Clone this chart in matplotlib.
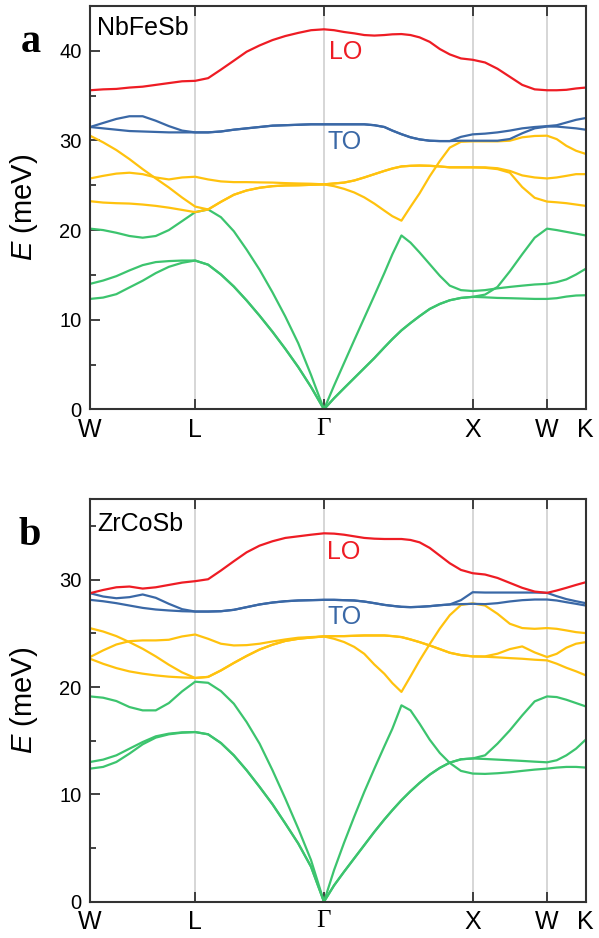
import matplotlib
matplotlib.use('Agg')
import matplotlib.pyplot as plt
from matplotlib.ticker import MultipleLocator

plt.rcParams['font.family'] = ['Liberation Sans', 'DejaVu Sans']
plt.rcParams['mathtext.fontset'] = 'custom'
plt.rcParams['mathtext.it'] = 'Liberation Sans:italic'
plt.rcParams['mathtext.rm'] = 'Liberation Sans'

# high-symmetry path W-L-G-X-W-K
node_k = [0.0, 0.707, 1.573, 2.573, 3.073, 3.333]
node_labels = ['W', 'L', 'Γ', 'X', 'W', 'K']

# sampled wave-vector positions along the path (W-L | L-G | G-X | X-W | W-K)
k = [0.0, 0.088, 0.177, 0.265, 0.354, 0.442, 0.530, 0.619, 0.707,
     0.794, 0.880, 0.967, 1.053, 1.140, 1.227, 1.313, 1.400, 1.486, 1.573,
     1.641, 1.708, 1.776, 1.844, 1.912, 1.979, 2.033, 2.094, 2.155, 2.216, 2.284, 2.352, 2.419, 2.494, 2.573,
     2.656, 2.740, 2.823, 2.906, 2.990, 3.073,
     3.138, 3.203, 3.268, 3.333]

# ---------------- NbFeSb (meV) ----------------
nbfesb_lo = [35.6, 35.7, 35.75, 35.9, 36.0, 36.2, 36.4, 36.6, 36.65,
             36.95, 37.9, 38.9, 39.9, 40.6, 41.2, 41.65, 42.0, 42.3, 42.4,
             42.3, 42.1, 41.95, 41.76, 41.7, 41.76, 41.84, 41.87, 41.76, 41.5, 41.0, 40.2, 39.6, 39.15, 39.0,
             38.7, 38.0, 37.1, 36.2, 35.7, 35.6,
             35.6, 35.65, 35.8, 35.9]
nbfesb_to1 = [31.5, 31.95, 32.4, 32.7, 32.7, 32.2, 31.6, 31.1, 30.9,
              30.9, 31.0, 31.2, 31.35, 31.5, 31.65, 31.7, 31.75, 31.8, 31.8,
              31.8, 31.8, 31.8, 31.8, 31.7, 31.5, 31.1, 30.7, 30.35, 30.12, 29.97, 29.93, 29.93, 30.4, 30.68,
              30.76, 30.9, 31.1, 31.35, 31.5, 31.6,
              31.7, 32.0, 32.3, 32.5]
nbfesb_to2 = [31.5, 31.35, 31.2, 31.05, 31.0, 30.95, 30.9, 30.9, 30.9,
              30.9, 31.0, 31.2, 31.35, 31.5, 31.65, 31.7, 31.75, 31.8, 31.8,
              31.8, 31.8, 31.8, 31.8, 31.7, 31.5, 31.1, 30.7, 30.35, 30.12, 29.97, 29.93, 29.93, 29.97, 29.97,
              29.97, 29.97, 30.16, 30.8, 31.35, 31.55,
              31.55, 31.45, 31.35, 31.2]
nbfesb_y1 = [30.53, 29.79, 28.93, 27.92, 26.8, 25.76, 24.75, 23.63, 22.62,
             22.3, 23.15, 23.94, 24.42, 24.72, 24.9, 24.98, 25.0, 25.05, 25.1,
             25.2, 25.3, 25.53, 25.87, 26.24, 26.6, 26.87, 27.1, 27.17, 27.2, 27.17, 27.1, 27.0, 27.0, 27.0,
             27.0, 26.9, 26.6, 26.1, 25.87, 25.76,
             25.87, 26.05, 26.24, 26.24]
nbfesb_y2 = [23.22, 23.07, 23.0, 22.96, 22.85, 22.7, 22.5, 22.25, 22.0,
             22.3, 23.15, 23.94, 24.42, 24.72, 24.9, 24.98, 25.0, 25.05, 25.1,
             25.2, 25.3, 25.53, 25.87, 26.24, 26.6, 26.87, 27.1, 27.17, 27.2, 27.17, 27.1, 27.0, 27.0, 27.0,
             26.95, 26.8, 26.4, 24.8, 23.6, 23.18,
             23.1, 23.0, 22.85, 22.7]
nbfesb_y3 = [25.76, 26.05, 26.3, 26.4, 26.24, 25.87, 25.65, 25.87, 25.95,
             25.65, 25.43, 25.35, 25.35, 25.32, 25.3, 25.24, 25.2, 25.17, 25.1,
             24.9, 24.6, 24.2, 23.65, 22.95, 22.17, 21.55, 21.05, 22.6, 24.1, 26.0, 27.7, 29.2, 29.85, 29.9,
             29.9, 29.9, 29.97, 30.35, 30.5, 30.53,
             30.15, 29.4, 28.85, 28.5]
nbfesb_g1 = [20.16, 20.0, 19.7, 19.34, 19.15, 19.34, 20.0, 21.0, 22.0,
             22.3, 21.44, 19.87, 17.82, 15.58, 13.05, 10.36, 7.38, 3.84, 0.0,
             2.65, 5.16, 7.7, 10.2, 12.7, 15.2, 17.3, 19.4, 18.6, 17.5, 16.2, 14.9, 13.8, 13.3, 13.2,
             13.3, 13.5, 13.66, 13.8, 13.93, 14.0,
             14.19, 14.5, 15.04, 15.68]
nbfesb_g2 = [14.0, 14.37, 14.86, 15.5, 16.09, 16.43, 16.54, 16.6, 16.6,
             16.14, 15.05, 13.7, 12.15, 10.45, 8.65, 6.75, 4.72, 2.5, 0.0,
             1.24, 2.36, 3.48, 4.6, 5.72, 6.91, 7.84, 8.81, 9.63, 10.4, 11.2, 11.76, 12.17, 12.43, 12.55,
             12.8, 13.66, 15.4, 17.3, 19.15, 20.16,
             20.0, 19.8, 19.6, 19.4]
nbfesb_g3 = [12.32, 12.47, 12.85, 13.6, 14.35, 15.2, 15.9, 16.35, 16.6,
             16.14, 15.05, 13.7, 12.15, 10.45, 8.65, 6.75, 4.72, 2.5, 0.0,
             1.24, 2.36, 3.48, 4.6, 5.72, 6.91, 7.84, 8.81, 9.63, 10.4, 11.2, 11.76, 12.17, 12.43, 12.55,
             12.5, 12.43, 12.4, 12.36, 12.32, 12.32,
             12.4, 12.58, 12.7, 12.73]

# ---------------- ZrCoSb (meV) ----------------
zrcosb_lo = [28.75, 29.05, 29.3, 29.37, 29.18, 29.3, 29.52, 29.74, 29.87,
             30.05, 30.86, 31.73, 32.56, 33.18, 33.59, 33.9, 34.05, 34.2, 34.33,
             34.3, 34.2, 34.05, 33.9, 33.83, 33.8, 33.8, 33.8, 33.71, 33.49, 32.97, 32.25, 31.54, 30.92, 30.61,
             30.49, 30.17, 29.71, 29.25, 28.9, 28.78,
             29.0, 29.25, 29.52, 29.77]
zrcosb_to1 = [28.75, 28.44, 28.28, 28.38, 28.63, 28.32, 27.76, 27.26, 27.04,
              27.04, 27.07, 27.2, 27.45, 27.7, 27.88, 28.0, 28.07, 28.1, 28.13,
              28.13, 28.1, 28.07, 27.97, 27.82, 27.66, 27.57, 27.48, 27.45, 27.48, 27.54, 27.63, 27.7, 28.1, 28.84,
              28.81, 28.81, 28.81, 28.81, 28.81, 28.78,
              28.47, 28.2, 28.0, 27.82]
zrcosb_to2 = [28.13, 28.0, 27.82, 27.6, 27.38, 27.23, 27.14, 27.07, 27.04,
              27.04, 27.07, 27.2, 27.45, 27.7, 27.88, 28.0, 28.07, 28.1, 28.13,
              28.13, 28.1, 28.07, 27.97, 27.82, 27.66, 27.57, 27.48, 27.45, 27.48, 27.54, 27.63, 27.7, 27.73, 27.76,
              27.73, 27.82, 27.98, 28.1, 28.16, 28.16,
              28.07, 27.91, 27.76, 27.6]
zrcosb_y1 = [25.49, 25.18, 24.75, 24.19, 23.57, 22.86, 22.08, 21.37, 20.85,
             20.95, 21.55, 22.25, 22.9, 23.5, 23.95, 24.3, 24.5, 24.62, 24.72,
             24.75, 24.75, 24.78, 24.81, 24.81, 24.81, 24.75, 24.66, 24.44, 24.19, 23.88, 23.54, 23.2, 22.98, 22.86,
             22.86, 23.11, 23.54, 23.79, 23.23, 22.8,
             23.1, 23.67, 24.04, 24.19]
zrcosb_y2 = [22.64, 22.17, 21.77, 21.46, 21.25, 21.09, 20.97, 20.9, 20.85,
             20.95, 21.55, 22.25, 22.9, 23.5, 23.95, 24.3, 24.5, 24.62, 24.72,
             24.75, 24.75, 24.78, 24.81, 24.81, 24.81, 24.75, 24.66, 24.44, 24.19, 23.88, 23.54, 23.2, 22.98, 22.86,
             22.83, 22.77, 22.7, 22.64, 22.55, 22.49,
             22.18, 21.8, 21.47, 21.1]
zrcosb_y3 = [22.8, 23.42, 23.97, 24.28, 24.35, 24.35, 24.41, 24.72, 24.9,
             24.5, 24.04, 23.88, 23.91, 24.04, 24.25, 24.44, 24.6, 24.66, 24.72,
             24.5, 24.2, 23.75, 23.1, 22.1, 21.24, 20.37, 19.55, 21.0, 22.48, 24.0, 25.45, 26.7, 27.65, 27.8,
             27.6, 26.83, 25.9, 25.5, 25.43, 25.5,
             25.43, 25.28, 25.12, 25.03]
zrcosb_g1 = [19.13, 19.01, 18.7, 18.14, 17.83, 17.83, 18.51, 19.6, 20.5,
             20.4, 19.63, 18.45, 16.74, 14.73, 12.25, 9.61, 6.82, 3.88, 0.0,
             2.95, 5.49, 7.91, 10.23, 12.4, 14.48, 16.12, 18.3, 17.83, 16.59, 15.1, 13.86, 12.93, 12.19, 11.94,
             11.91, 11.97, 12.06, 12.19, 12.31, 12.4,
             12.5, 12.56, 12.56, 12.5]
zrcosb_g2 = [13.02, 13.24, 13.64, 14.26, 14.88, 15.41, 15.66, 15.78, 15.81,
             15.6, 14.79, 13.64, 12.25, 10.7, 9.08, 7.29, 5.43, 3.26, 0.0,
             1.52, 2.79, 4.03, 5.27, 6.51, 7.66, 8.53, 9.46, 10.3, 11.07, 11.84, 12.47, 12.96, 13.27, 13.35,
             13.64, 14.73, 15.97, 17.36, 18.67, 19.13,
             19.07, 18.82, 18.51, 18.2]
zrcosb_g3 = [12.4, 12.56, 13.02, 13.8, 14.67, 15.29, 15.6, 15.75, 15.81,
             15.6, 14.79, 13.64, 12.25, 10.7, 9.08, 7.29, 5.43, 3.26, 0.0,
             1.52, 2.79, 4.03, 5.27, 6.51, 7.66, 8.53, 9.46, 10.3, 11.07, 11.84, 12.47, 12.96, 13.27, 13.35,
             13.3, 13.24, 13.18, 13.12, 13.05, 12.99,
             13.18, 13.64, 14.26, 15.1]

GREEN = '#3cc46e'
YELLOW = '#ffc20e'
BLUE = '#3a68a6'
RED = '#ee1c24'
SPINE = '#333333'


def plot_panel(ax, acoustic, optical, to, lo, ymax, name, name_y, lo_xy, to_xy):
    for xv in node_k[1:-1]:
        ax.axvline(xv, color='#cccccc', lw=1.1, zorder=0)
    style = dict(lw=1.6, solid_joinstyle='round', solid_capstyle='round')
    for band in acoustic:
        ax.plot(k, band, color=GREEN, **style)
    for band in optical:
        ax.plot(k, band, color=YELLOW, **style)
    for band in to:
        ax.plot(k, band, color=BLUE, **style)
    ax.plot(k, lo, color=RED, **style)

    ax.set_xlim(node_k[0], node_k[-1])
    ax.set_ylim(0, ymax)
    ax.set_xticks(node_k)
    ax.set_xticklabels(node_labels)
    for lbl in ax.get_xticklabels():
        if lbl.get_text() == 'Γ':
            lbl.set_family('Liberation Serif')
    ax.yaxis.set_major_locator(MultipleLocator(10))
    ax.yaxis.set_minor_locator(MultipleLocator(5))
    ax.tick_params(axis='x', direction='in', top=True, bottom=True, length=7, width=1.3,
                   labelsize=18, pad=6, color=SPINE)
    ax.tick_params(axis='y', which='major', direction='in', left=True, right=False,
                   length=7, width=1.3, labelsize=14.5, pad=6, color=SPINE)
    ax.tick_params(axis='y', which='minor', direction='in', left=True, right=False,
                   length=4, width=1.3, color=SPINE)
    for sp in ax.spines.values():
        sp.set_color(SPINE)
        sp.set_linewidth(1.5)

    ax.set_ylabel('$E$ (meV)', fontsize=21)
    ax.yaxis.set_label_coords(-0.10, 0.5)

    ax.text(0.014, name_y, name, transform=ax.transAxes, ha='left', va='top', fontsize=18)
    ax.text(lo_xy[0], lo_xy[1], 'LO', color=RED, fontsize=18, ha='left', va='baseline')
    ax.text(to_xy[0], to_xy[1], 'TO', color=BLUE, fontsize=18, ha='left', va='baseline')


fig = plt.figure(figsize=(5.99, 9.38), dpi=100)
ax_a = fig.add_axes([0.1503, 0.5636, 0.8275, 0.4300])
ax_b = fig.add_axes([0.1503, 0.0387, 0.8275, 0.4290])

plot_panel(ax_a, [nbfesb_g1, nbfesb_g2, nbfesb_g3], [nbfesb_y1, nbfesb_y2, nbfesb_y3],
           [nbfesb_to1, nbfesb_to2], nbfesb_lo, 45, 'NbFeSb', 0.975, (1.607, 39.1), (1.594, 29.0))
plot_panel(ax_b, [zrcosb_g1, zrcosb_g2, zrcosb_g3], [zrcosb_y1, zrcosb_y2, zrcosb_y3],
           [zrcosb_to1, zrcosb_to2], zrcosb_lo, 37.5, 'ZrCoSb', 0.968, (1.594, 31.9), (1.594, 25.9))

fig.text(21 / 599, 1 - 52 / 938, 'a', fontsize=29, fontweight='bold', family='Liberation Serif')
fig.text(19 / 599, 1 - 545 / 938, 'b', fontsize=29, fontweight='bold', family='Liberation Serif')

fig.savefig('out.png', dpi=100)
